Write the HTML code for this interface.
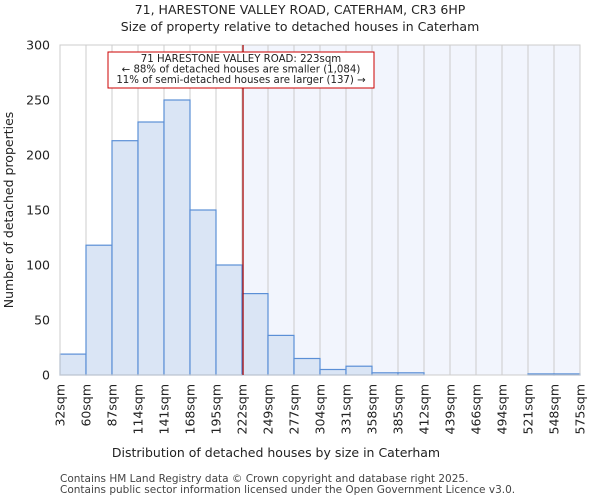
<!DOCTYPE html>
<html><head><meta charset="utf-8"><style>
body{margin:0;background:#fff;font-family:"DejaVu Sans","Liberation Sans",sans-serif;}
</style></head><body>
<svg width="600" height="500" xmlns="http://www.w3.org/2000/svg" font-family="DejaVu Sans, Liberation Sans, sans-serif">
<text x="300" y="14" text-anchor="middle" font-size="12.5" fill="#222">71, HARESTONE VALLEY ROAD, CATERHAM, CR3 6HP</text>
<text x="300" y="31" text-anchor="middle" font-size="12.5" fill="#222">Size of property relative to detached houses in Caterham</text>
<g id="plot"></g>
<text x="276" y="457" text-anchor="middle" font-size="12.5" fill="#222">Distribution of detached houses by size in Caterham</text>
<text transform="translate(13,210) rotate(-90)" text-anchor="middle" font-size="12.5" fill="#222">Number of detached properties</text>
<text x="60" y="482" font-size="10.5" fill="#444">Contains HM Land Registry data © Crown copyright and database right 2025.</text>
<text x="60" y="493" font-size="10.5" fill="#444">Contains public sector information licensed under the Open Government Licence v3.0.</text>
</svg>
<script>
const categories=["32sqm","60sqm","87sqm","114sqm","141sqm","168sqm","195sqm","222sqm","249sqm","277sqm","304sqm","331sqm","358sqm","385sqm","412sqm","439sqm","466sqm","494sqm","521sqm","548sqm","575sqm"];
const counts=[19,118,213,230,250,150,100,74,36,15,5,8,2,2,0,0,0,0,1,1];
const yTicks=[0,50,100,150,200,250,300];
const propertyBin=7.04;
const NS="http://www.w3.org/2000/svg";
const g=document.getElementById('plot');
const L=60,R=580,T=45,B=375,n=counts.length,bw=(R-L)/n;
const x=i=>L+i*bw, y=v=>B-(v/300)*(B-T);
function el(tag,a,txt){const e=document.createElementNS(NS,tag);for(const k in a)e.setAttribute(k,a[k]);if(txt!==undefined)e.textContent=txt;g.appendChild(e);return e;}
let e=el('rect',{x:x(propertyBin),y:T,width:R-x(propertyBin),height:B-T,fill:'#f2f5fd'});


for(let i=0;i<=n;i++){e=el('line',{x1:x(i),x2:x(i),y1:T,y2:B,stroke:'#cccccc','stroke-width':1});

}
counts.forEach((v,i)=>{e=el('rect',{x:x(i),y:y(v),width:bw,height:B-y(v),fill:'#dae5f5',stroke:'#5b8fd6','stroke-width':1.2});

});
e=el('rect',{x:L,y:T,width:R-L,height:B-T,fill:'none',stroke:'#cccccc'});


yTicks.forEach(t=>{e=el('text',{x:L-10,y:y(t)+4.5,'text-anchor':'end','font-size':12.5,fill:'#222'},t);

});
categories.forEach((c,i)=>{const xx=x(i)+4.5;e=el('text',{x:xx,y:384,'text-anchor':'end','font-size':12.5,fill:'#222',transform:`rotate(-90 ${xx} 384)`},c);

});
e=el('line',{x1:x(propertyBin),x2:x(propertyBin),y1:T,y2:B,stroke:'#aa0000','stroke-width':1.2});


e=el('rect',{x:108,y:52,width:266,height:36,fill:'#fff',stroke:'#cc0000','stroke-width':1});


["71 HARESTONE VALLEY ROAD: 223sqm","← 88% of detached houses are smaller (1,084)","11% of semi-detached houses are larger (137) →"].forEach((s,i)=>{
e=el('text',{x:241,y:62+i*10.5,'text-anchor':'middle','font-size':10.2,fill:'#222'},s);

});
</script>
</body></html>
